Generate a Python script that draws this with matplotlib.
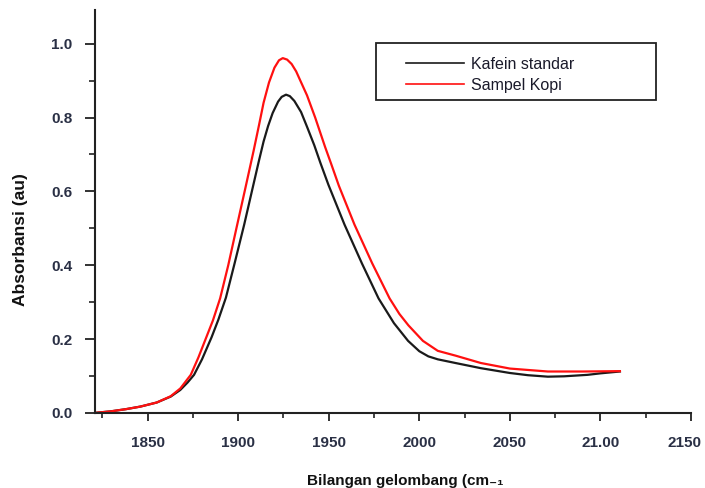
import matplotlib
matplotlib.use('Agg')
import matplotlib.pyplot as plt
from matplotlib.patches import Rectangle
from matplotlib.ticker import MultipleLocator
from matplotlib.transforms import ScaledTranslation

plt.rcParams['font.family'] = ['Liberation Sans', 'DejaVu Sans']

# values
wave_std = [1821, 1829.5, 1838, 1846, 1855, 1862.7, 1868, 1872, 1875.6, 1880, 1885.3,
            1889, 1893.2, 1898, 1903.3, 1908, 1911.3, 1914, 1916.5, 1919, 1922, 1924,
            1926.4, 1928.5, 1931, 1934.7, 1938, 1942, 1945.4, 1949.8, 1958.7, 1968.3,
            1977.5, 1986, 1993.8, 2000, 2005, 2010.2, 2020, 2034, 2050, 2060, 2071,
            2080, 2093, 2100, 2110.8]
abs_std = [0.0, 0.004, 0.010, 0.017, 0.028, 0.044, 0.062, 0.082, 0.103, 0.145, 0.205,
           0.252, 0.312, 0.405, 0.51, 0.61, 0.68, 0.735, 0.777, 0.812, 0.843, 0.856,
           0.862, 0.858, 0.845, 0.815, 0.775, 0.725, 0.677, 0.618, 0.51, 0.405,
           0.31, 0.243, 0.195, 0.167, 0.153, 0.145, 0.135, 0.121, 0.108, 0.102, 0.098,
           0.099, 0.103, 0.107, 0.112]

wave_kopi = [1821, 1829.5, 1838, 1846, 1855, 1862.7, 1868, 1873.8, 1878, 1882, 1886,
             1890, 1894.5, 1899, 1904, 1908.5, 1911.5, 1914, 1917, 1920, 1922.5,
             1924.6, 1927, 1929.5, 1932, 1934.3, 1938, 1942.5, 1948, 1951.3, 1955.6,
             1964.2, 1974, 1983.6, 1989, 1994, 2002, 2010.2, 2020, 2034, 2050, 2071,
             2090, 2110.8]
abs_kopi = [0.0, 0.004, 0.010, 0.017, 0.028, 0.045, 0.066, 0.103, 0.15, 0.20, 0.25,
            0.31, 0.40, 0.50, 0.61, 0.71, 0.78, 0.84, 0.895, 0.935, 0.955,
            0.961, 0.957, 0.945, 0.925, 0.90, 0.86, 0.80, 0.72, 0.675, 0.615,
            0.51, 0.405, 0.31, 0.268, 0.237, 0.195, 0.168, 0.155, 0.135, 0.12, 0.112,
            0.112, 0.113]

x_ticks = [1850, 1900, 1950, 2000, 2050, 2100, 2150]
x_labels = ['1850', '1900', '1950', '2000', '2050', '21.00', '2150']
y_ticks = [0.0, 0.2, 0.4, 0.6, 0.8, 1.0]

tick_color = '#2a3045'

fig = plt.figure(figsize=(7.05, 4.88), dpi=100)
ax = fig.add_axes([0.135, 0.154, 0.845, 0.826])

ax.plot(wave_std, abs_std, color='#1a1a1a', lw=1.6, solid_joinstyle='round',
        label='Kafein standar')
ax.plot(wave_kopi, abs_kopi, color='#ff1010', lw=1.6, solid_joinstyle='round',
        label='Sampel Kopi')

ax.set_xlim(1821, 2150)
ax.set_ylim(0, 1.092)

ax.spines['top'].set_visible(False)
ax.spines['right'].set_visible(False)
for s in ('left', 'bottom'):
    ax.spines[s].set_linewidth(1.5)
    ax.spines[s].set_color('#222222')

ax.set_xticks(x_ticks)
ax.set_xticklabels(x_labels)
ax.set_yticks(y_ticks)
ax.set_yticklabels([f'{v:.1f}' for v in y_ticks])
ax.xaxis.set_minor_locator(MultipleLocator(25))
ax.yaxis.set_minor_locator(MultipleLocator(0.1))

ax.tick_params(which='both', direction='out', color='#222222', labelsize=11,
               labelcolor=tick_color)
ax.tick_params(axis='y', which='major', length=7.5, width=1.3, pad=9)
ax.tick_params(axis='y', which='minor', length=4.5, width=1.2)
ax.tick_params(axis='x', which='major', length=6, width=1.3, pad=11)
ax.tick_params(axis='x', which='minor', length=3.8, width=1.2)
for lab in ax.get_xticklabels() + ax.get_yticklabels():
    lab.set_fontweight('bold')
# last x label sits a little left of its tick in the reference
last = ax.get_xticklabels()[-1]
last.set_transform(last.get_transform() + ScaledTranslation(-6 / 100, 0, fig.dpi_scale_trans))

ax.set_ylabel('Absorbansi (au)', fontsize=12.5, fontweight='bold', color='#111111')
ax.yaxis.set_label_coords(-0.113, 0.43)
ax.set_xlabel('Bilangan gelombang (cm₋₁', fontsize=11, fontweight='bold',
              color='#111111', family=['Liberation Sans', 'DejaVu Sans'])
ax.xaxis.set_label_coords(0.52, -0.152)

# legend frame drawn as its own box, entries placed inside it
ax.add_patch(Rectangle((0.472, 0.776), 0.469, 0.142, transform=ax.transAxes,
                       fill=False, edgecolor='#222222', lw=1.3, clip_on=False))
leg = ax.legend(loc='upper left', bbox_to_anchor=(0.522, 0.884), fontsize=11.5,
                frameon=False, handlelength=3.6, handletextpad=0.45, borderpad=0,
                labelspacing=0.4, borderaxespad=0)
for t in leg.get_texts():
    t.set_color('#1a1a2a')
for h in leg.get_lines():
    h.set_linewidth(1.2)

fig.savefig('out.png', dpi=100)
